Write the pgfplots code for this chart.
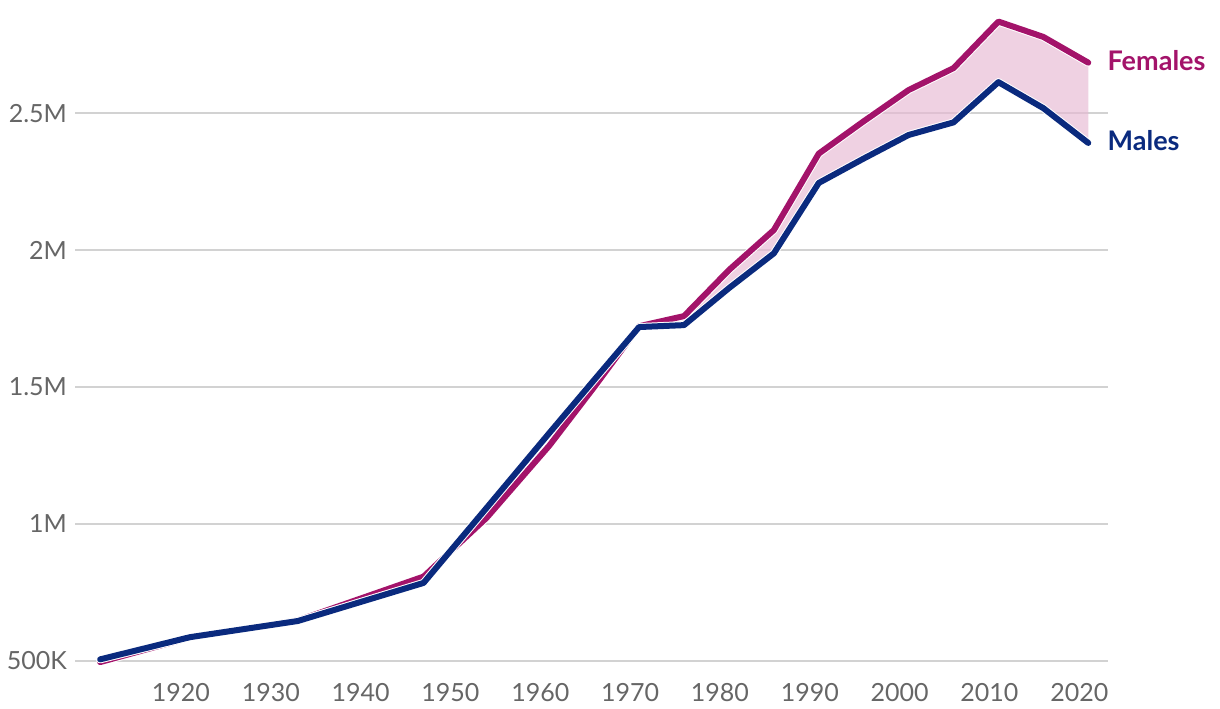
\documentclass[border=0pt]{standalone}
\usepackage{fontspec}
\setmainfont{Lato}
\usepackage{pgfplots}
\pgfplotsset{compat=1.18}
\usepgfplotslibrary{fillbetween}
\definecolor{navy}{HTML}{0A2A7E}
\definecolor{mag}{HTML}{A3136A}
\definecolor{pinkf}{HTML}{E6B8D2}
\definecolor{gridc}{HTML}{D2D2D2}
\definecolor{tickc}{HTML}{666666}
\pgfplotstableread{
year val
1911 496000
1921 586000
1933 648000
1947 808000
1954 1022000
1961 1286000
1966 1500000
1971 1722000
1976 1759000
1981 1927000
1986 2073000
1991 2352000
1996 2470000
2001 2584000
2006 2664000
2011 2834000
2016 2778000
2021 2684000
}\females
\pgfplotstableread{
year val
1911 506000
1921 587000
1933 646000
1947 785000
1954 1058000
1961 1332000
1966 1526000
1971 1719000
1976 1726000
1981 1861000
1986 1988000
1991 2245000
1996 2334000
2001 2420000
2006 2466000
2011 2613000
2016 2518000
2021 2391000
}\males
\begin{document}
\begin{tikzpicture}
\path (0,0) rectangle (610pt,354pt);
\begin{axis}[
  at={(37.5pt,16.65pt)}, anchor=south west,
  scale only axis, width=516.5pt, height=335.6pt,
  xmin=1908.2, xmax=2023.2, ymin=450000, ymax=2900000,
  clip=false,
  scaled y ticks=false,
  axis line style={draw=none},
  major tick length=0pt,
  xtick={1920,1930,1940,1950,1960,1970,1980,1990,2000,2010,2020},
  xticklabels={1920,1930,1940,1950,1960,1970,1980,1990,2000,2010,2020},
  ytick={500000,1000000,1500000,2000000,2500000},
  yticklabels={500K,1M,1.5M,2M,2.5M},
  ymajorgrids,
  grid style={gridc, line width=0.75pt},
  tick label style={font=\fontsize{12.5}{14}\selectfont, text=tickc},
  yticklabel style={xshift=-0.5pt},
  xticklabel style={yshift=-1pt},
]
\addplot[name path=F, draw=none] table[x=year,y=val] {\females};
\addplot[name path=M, draw=none] table[x=year,y=val] {\males};
\addplot[pinkf, fill opacity=0.65] fill between[of=F and M, soft clip={domain=1971:2021}];
\addplot[white, line width=4pt, line join=round, line cap=round] table[x=year,y=val] {\females};
\addplot[mag, line width=3pt, line join=round, line cap=round] table[x=year,y=val] {\females};
\addplot[white, line width=4pt, line join=round, line cap=round] table[x=year,y=val] {\males};
\addplot[navy, line width=3pt, line join=round, line cap=round] table[x=year,y=val] {\males};
\node[anchor=west, inner sep=0pt, text=mag, font=\bfseries\fontsize{13.5}{15}\selectfont, xshift=9.5pt] at (axis cs:2021,2690000) {Females};
\node[anchor=west, inner sep=0pt, text=navy, font=\bfseries\fontsize{13.5}{15}\selectfont, xshift=9.5pt] at (axis cs:2021,2398000) {Males};
\end{axis}
\end{tikzpicture}
\end{document}
